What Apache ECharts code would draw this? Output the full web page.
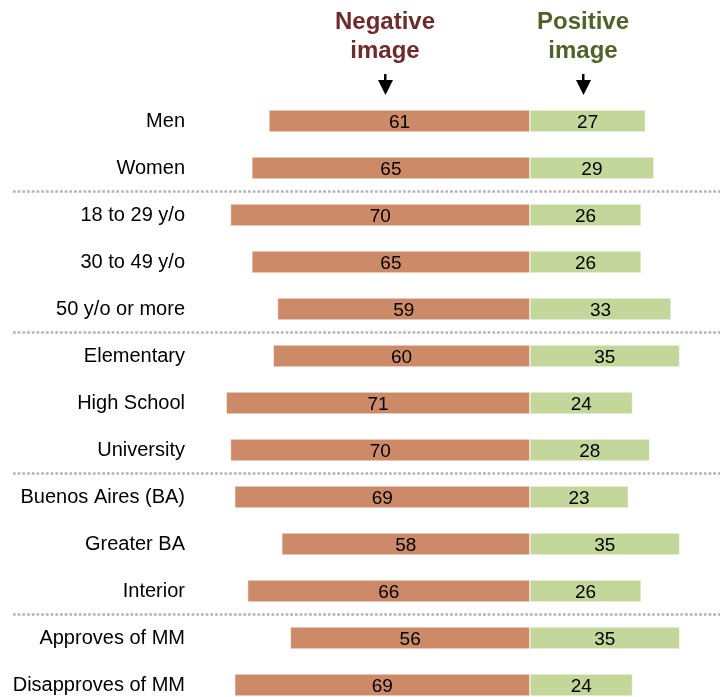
<!DOCTYPE html>
<html>
<head>
<meta charset="utf-8">
<script src="https://cdn.jsdelivr.net/npm/echarts@6/dist/echarts.min.js"></script>
<style>
  html, body { margin: 0; padding: 0; background: #fff; overflow: hidden; }
  #chart { width: 720px; height: 760px; }
</style>
</head>
<body>
<div id="chart"></div>
<script>
// Groups of respondents, top to bottom
const categories = [
  'Men', 'Women',
  '18 to 29 y/o', '30 to 49 y/o', '50 y/o or more',
  'Elementary', 'High School', 'University',
  'Buenos Aires (BA)', 'Greater BA', 'Interior',
  'Approves of MM', 'Disapproves of MM'
];
// Share (%) with a negative image
const negativeImage = [61, 65, 70, 65, 59, 60, 71, 70, 69, 58, 66, 56, 69];
// Share (%) with a positive image
const positiveImage = [27, 29, 26, 26, 33, 35, 24, 28, 23, 35, 26, 35, 24];
// Last category of each block, followed by a divider
const groupEnds = ['Women', '50 y/o or more', 'University', 'Interior'];

const NEG_COLOR = '#CD8A69';
const POS_COLOR = '#C4D79B';
const FONT = '"Liberation Sans", Arial, sans-serif';

const chart = echarts.init(document.getElementById('chart'), null, { renderer: 'canvas' });

const valueLabel = {
  show: true,
  position: 'inside',
  color: '#000',
  fontFamily: FONT,
  fontSize: 19,
  offset: [0, 2],
  formatter: p => Math.abs(p.value)
};

chart.setOption({
  animation: false,
  grid: { left: 195, width: 506, top: 97.5, height: 611, containLabel: false },
  xAxis: {
    type: 'value', min: -78.3, max: 40,
    show: false
  },
  yAxis: {
    type: 'category', data: categories, inverse: true,
    axisLine: { show: false }, axisTick: { show: false },
    splitLine: { show: false },
    axisLabel: { color: '#000', fontFamily: FONT, fontSize: 20, margin: 10 }
  },
  series: [
    {
      name: 'Negative image', type: 'bar', barWidth: 22, barGap: '-100%',
      data: negativeImage.map(v => -v),
      itemStyle: { color: NEG_COLOR, borderColor: '#fff', borderWidth: 0.5 },
      label: valueLabel
    },
    {
      name: 'Positive image', type: 'bar', barWidth: 22, barGap: '-100%',
      data: positiveImage,
      itemStyle: { color: POS_COLOR, borderColor: '#fff', borderWidth: 0.5 },
      label: valueLabel
    }
  ]
});

// Headers with down arrows, dotted dividers between blocks
const graphics = [];

function header(lines, color, cx) {
  graphics.push({
    type: 'text', x: cx, y: 8,
    style: {
      text: lines, fill: color, font: 'bold 24px ' + FONT,
      align: 'center', verticalAlign: 'top', lineHeight: 29
    }
  });
  graphics.push({
    type: 'rect', shape: { x: cx - 1, y: 74, width: 2.5, height: 8 },
    style: { fill: '#000' }
  });
  graphics.push({
    type: 'polygon', shape: { points: [[cx - 7, 80], [cx + 8, 80], [cx + 0.5, 95]] },
    style: { fill: '#000' }
  });
}
header('Negative\nimage', '#6E2B2B', 385);
header('Positive\nimage', '#4F6228', 583);

groupEnds.forEach(name => {
  const i = categories.indexOf(name);
  const y1 = chart.convertToPixel({ yAxisIndex: 0 }, categories[i]);
  const y2 = chart.convertToPixel({ yAxisIndex: 0 }, categories[i + 1]);
  const y = Math.round((y1 + y2) / 2) - 0.5;
  graphics.push({
    type: 'line', shape: { x1: 13, y1: y, x2: 720, y2: y },
    style: { stroke: '#B4B4B4', lineWidth: 2.5, lineDash: [2.7, 2] }
  });
});

chart.setOption({ graphic: graphics });
</script>
</body>
</html>
